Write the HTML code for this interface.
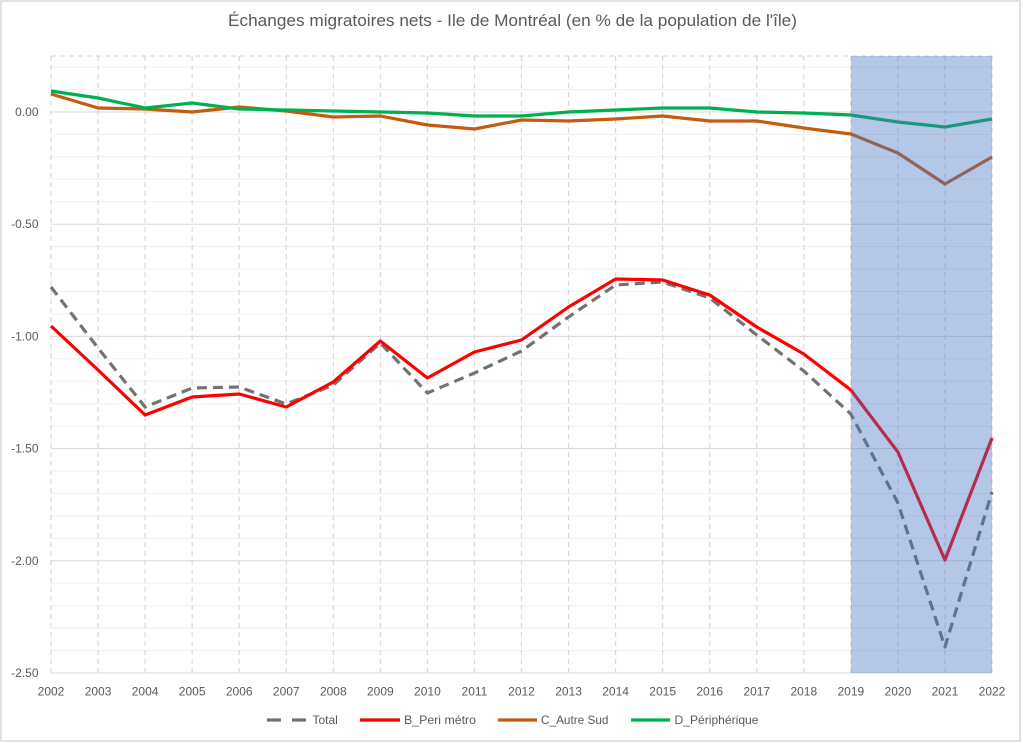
<!DOCTYPE html>
<html><head><meta charset="utf-8"><style>
html,body{margin:0;padding:0;background:#fff;}
svg{display:block;}
text{font-family:"Liberation Sans",sans-serif;fill:#595959;}
</style></head><body>
<svg width="1023" height="743" viewBox="0 0 1023 743" xmlns="http://www.w3.org/2000/svg">
<rect x="0" y="0" width="1023" height="743" fill="#fff"/>
<rect x="1" y="1" width="1019" height="740" fill="none" stroke="#d9d9d9" stroke-width="1.5"/>
<text x="228" y="26" font-size="17" textLength="569" lengthAdjust="spacingAndGlyphs">Échanges migratoires nets - Ile de Montréal (en % de la population de l'île)</text>

<!-- minor gridlines -->
<g stroke="#efefef" stroke-width="1">
<line x1="51" x2="992" y1="67.1" y2="67.1"/><line x1="51" x2="992" y1="89.6" y2="89.6"/>
<line x1="51" x2="992" y1="134.4" y2="134.4"/><line x1="51" x2="992" y1="156.9" y2="156.9"/><line x1="51" x2="992" y1="179.3" y2="179.3"/><line x1="51" x2="992" y1="201.8" y2="201.8"/>
<line x1="51" x2="992" y1="246.6" y2="246.6"/><line x1="51" x2="992" y1="269.1" y2="269.1"/><line x1="51" x2="992" y1="291.5" y2="291.5"/><line x1="51" x2="992" y1="314" y2="314"/>
<line x1="51" x2="992" y1="358.8" y2="358.8"/><line x1="51" x2="992" y1="381.3" y2="381.3"/><line x1="51" x2="992" y1="403.7" y2="403.7"/><line x1="51" x2="992" y1="426.2" y2="426.2"/>
<line x1="51" x2="992" y1="471" y2="471"/><line x1="51" x2="992" y1="493.5" y2="493.5"/><line x1="51" x2="992" y1="515.9" y2="515.9"/><line x1="51" x2="992" y1="538.4" y2="538.4"/>
<line x1="51" x2="992" y1="583.2" y2="583.2"/><line x1="51" x2="992" y1="605.7" y2="605.7"/><line x1="51" x2="992" y1="628.1" y2="628.1"/><line x1="51" x2="992" y1="650.6" y2="650.6"/>
</g>
<!-- major gridlines -->
<g stroke="#d9d9d9" stroke-width="1">
<line x1="51" x2="992" y1="112" y2="112"/><line x1="51" x2="992" y1="224.2" y2="224.2"/><line x1="51" x2="992" y1="336.4" y2="336.4"/><line x1="51" x2="992" y1="448.6" y2="448.6"/><line x1="51" x2="992" y1="560.8" y2="560.8"/><line x1="51" x2="992" y1="673" y2="673"/>
</g>
<!-- vertical dashed gridlines -->
<g stroke="#d9d9d9" stroke-width="1.2" stroke-dasharray="5,4">
<line x1="51" x2="992" y1="56" y2="56"/>
<line x1="51" x2="51" y1="56" y2="673"/><line x1="98.05" x2="98.05" y1="56" y2="673"/><line x1="145.1" x2="145.1" y1="56" y2="673"/><line x1="192.15" x2="192.15" y1="56" y2="673"/><line x1="239.2" x2="239.2" y1="56" y2="673"/><line x1="286.25" x2="286.25" y1="56" y2="673"/><line x1="333.3" x2="333.3" y1="56" y2="673"/><line x1="380.35" x2="380.35" y1="56" y2="673"/><line x1="427.4" x2="427.4" y1="56" y2="673"/><line x1="474.45" x2="474.45" y1="56" y2="673"/><line x1="521.5" x2="521.5" y1="56" y2="673"/><line x1="568.55" x2="568.55" y1="56" y2="673"/><line x1="615.6" x2="615.6" y1="56" y2="673"/><line x1="662.65" x2="662.65" y1="56" y2="673"/><line x1="709.7" x2="709.7" y1="56" y2="673"/><line x1="756.75" x2="756.75" y1="56" y2="673"/><line x1="803.8" x2="803.8" y1="56" y2="673"/><line x1="850.85" x2="850.85" y1="56" y2="673"/><line x1="897.9" x2="897.9" y1="56" y2="673"/><line x1="944.95" x2="944.95" y1="56" y2="673"/><line x1="992" x2="992" y1="56" y2="673"/>
</g>

<!-- y labels -->
<g font-size="12" text-anchor="end">
<text x="38.5" y="116">0.00</text>
<text x="38.5" y="228.2">-0.50</text>
<text x="38.5" y="340.4">-1.00</text>
<text x="38.5" y="452.6">-1.50</text>
<text x="38.5" y="564.8">-2.00</text>
<text x="38.5" y="677">-2.50</text>
</g>
<!-- x labels -->
<g font-size="12" text-anchor="middle">
<text x="51" y="695.5">2002</text><text x="98.05" y="695.5">2003</text><text x="145.1" y="695.5">2004</text><text x="192.15" y="695.5">2005</text><text x="239.2" y="695.5">2006</text><text x="286.25" y="695.5">2007</text><text x="333.3" y="695.5">2008</text><text x="380.35" y="695.5">2009</text><text x="427.4" y="695.5">2010</text><text x="474.45" y="695.5">2011</text><text x="521.5" y="695.5">2012</text><text x="568.55" y="695.5">2013</text><text x="615.6" y="695.5">2014</text><text x="662.65" y="695.5">2015</text><text x="709.7" y="695.5">2016</text><text x="756.75" y="695.5">2017</text><text x="803.8" y="695.5">2018</text><text x="850.85" y="695.5">2019</text><text x="897.9" y="695.5">2020</text><text x="944.95" y="695.5">2021</text><text x="992" y="695.5">2022</text>
</g>

<!-- series -->
<g fill="none" stroke-width="3.2" stroke-linejoin="round">
<polyline stroke="#767171" stroke-dasharray="10,6" points="51,287 98.05,348 145.1,407 192.15,388 239.2,387 286.25,404 333.3,385 380.35,343 427.4,393 474.45,373 521.5,351 568.55,317 615.6,285 662.65,282 709.7,298 756.75,335 803.8,371 850.85,414 897.9,503 944.95,647 992,492"/>
<polyline stroke="#ff0000" points="51,326 98.05,370 145.1,415 192.15,397 239.2,394 286.25,407 333.3,382 380.35,341 427.4,378 474.45,352 521.5,340 568.55,307 615.6,279 662.65,280 709.7,295 756.75,327 803.8,354 850.85,390 897.9,452 944.95,560 992,438"/>
<polyline stroke="#c55a11" points="51,94 98.05,108 145.1,109 192.15,112 239.2,107 286.25,111 333.3,117 380.35,116 427.4,125 474.45,129 521.5,120 568.55,121 615.6,119 662.65,116 709.7,121 756.75,121 803.8,128 850.85,134 897.9,153 944.95,184 992,157"/>
<polyline stroke="#00b050" points="51,91 98.05,98 145.1,108 192.15,103 239.2,109 286.25,110 333.3,111 380.35,112 427.4,113 474.45,116 521.5,116 568.55,112 615.6,110 662.65,108 709.7,108 756.75,112 803.8,113 850.85,115 897.9,122 944.95,127 992,119"/>
</g>

<!-- shaded overlay -->
<rect x="851" y="56" width="141" height="617" fill="rgb(68,114,196)" fill-opacity="0.4"/>

<!-- legend -->
<g stroke-width="3.2">
<line x1="267" x2="307" y1="720" y2="720" stroke="#767171" stroke-dasharray="14,11"/>
<line x1="360" x2="400" y1="720" y2="720" stroke="#ff0000"/>
<line x1="498" x2="537" y1="720" y2="720" stroke="#c55a11"/>
<line x1="631" x2="670" y1="720" y2="720" stroke="#00b050"/>
</g>
<g font-size="12">
<text x="312.5" y="724">Total</text>
<text x="404" y="724" textLength="72" lengthAdjust="spacingAndGlyphs">B_Peri métro</text>
<text x="541" y="724" textLength="67.5" lengthAdjust="spacingAndGlyphs">C_Autre Sud</text>
<text x="674.5" y="724" textLength="84" lengthAdjust="spacingAndGlyphs">D_Périphérique</text>
</g>
</svg>
</body></html>
